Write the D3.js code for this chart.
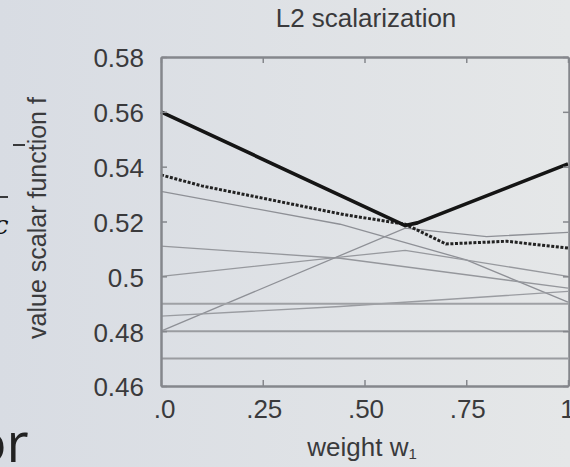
<!DOCTYPE html>
<html><head><meta charset="utf-8">
<script src="https://cdn.jsdelivr.net/npm/d3@7"></script>
<style>
html,body{margin:0;padding:0;overflow:hidden;background:#dde0e5;}
svg{display:block;font-family:"Liberation Sans",Arial,sans-serif;}
</style></head><body>
<svg id="c" width="570" height="467"></svg>
<script>
// ---- data ----
const title = "L2 scalarization";
const xLabel = "weight w";
const yLabel = "value scalar function f";
const xTickValues = [0, 0.25, 0.5, 0.75, 1];
const xTickLabels = [".0", ".25", ".50", ".75", "1"];
const yTickValues = [0.58, 0.56, 0.54, 0.52, 0.5, 0.48, 0.46];
const yTickLabels = ["0.58", "0.56", "0.54", "0.52", "0.5", "0.48", "0.46"];

// thick solid line (optimum)
const boldX = [0, 0.6, 0.63, 1];
const boldY = [0.56, 0.5185, 0.5195, 0.541];
// thick dotted line
const dotX = [0, 0.1, 0.25, 0.45, 0.6, 0.7, 0.85, 1];
const dotY = [0.537, 0.533, 0.5285, 0.5225, 0.519, 0.5118, 0.5128, 0.5103];
// thin gray lines
const thinA = {x: [0, 0.44, 0.75, 1], y: [0.531, 0.519, 0.506, 0.4906]};
const thinB = {x: [0, 0.44, 1], y: [0.511, 0.5066, 0.4957]};
const thinC = {x: [0, 0.44, 0.6, 1], y: [0.5, 0.507, 0.5095, 0.5]};
const thinD = {x: [0, 0.6, 0.8, 1], y: [0.48, 0.5176, 0.5145, 0.516]};
const thinE = {x: [0, 0.44, 1], y: [0.4855, 0.489, 0.4945]};
const thinG = {x: [0, 1], y: [0.49, 0.49]};
const thinH = {x: [0, 1], y: [0.48, 0.48]};
const thinI = {x: [0, 1], y: [0.47, 0.47]};
const thinLines = [thinA, thinB, thinC, thinD, thinE, thinG, thinH, thinI];

// ---- drawing ----
const svg = d3.select("#c");
const defs = svg.append("defs");
const grad = defs.append("linearGradient").attr("id","bg").attr("x1","0").attr("x2","1").attr("y1","0").attr("y2","0");
grad.append("stop").attr("offset","0").attr("stop-color","#d8dce3");
grad.append("stop").attr("offset","1").attr("stop-color","#e5e7e8");
svg.append("rect").attr("width",570).attr("height",467).attr("fill","url(#bg)");

const L = 161, R = 568, T = 57, B = 386;
const x = d3.scaleLinear().domain([0,1]).range([L,R]);
const y = d3.scaleLinear().domain([0.46,0.58]).range([B,T]);

const line = d3.line().x(d=>x(d[0])).y(d=>y(d[1]));
const zip = (xs, ys) => xs.map((v,i)=>[v, ys[i]]);

// thin lines
const thinColors = ["#8e9096","#95979c","#97999e","#8e9096","#9a9ca1","#9fa1a5","#9a9ca0","#9a9ca0"];
const thinWidths = [1.3,1.3,1.3,1.3,1.3,2,2,2];
thinLines.forEach((s,i)=>{
  svg.append("path").attr("d", line(zip(s.x, s.y))).attr("fill","none")
    .attr("stroke", thinColors[i]).attr("stroke-width", thinWidths[i]);
});

// dotted thick line
svg.append("path").attr("d", line(zip(dotX, dotY))).attr("fill","none")
  .attr("stroke","#222").attr("stroke-width",3).attr("stroke-dasharray","3,1.6");
// bold line
svg.append("path").attr("d", line(zip(boldX, boldY))).attr("fill","none")
  .attr("stroke","#151515").attr("stroke-width",3.6).attr("stroke-linejoin","round");

// axes with inward ticks (all four sides)
const axisColor = "#85878c";
function styleAxis(g){
  g.select(".domain").attr("stroke", axisColor).attr("stroke-width", 2.5);
  g.selectAll(".tick line").attr("stroke", axisColor).attr("stroke-width", 1.5);
  g.selectAll("text").attr("fill","#3a3a3c").attr("font-size","26px")
    .attr("font-family","Liberation Sans, Arial, sans-serif");
}
const xb = svg.append("g").attr("transform",`translate(0,${B})`)
  .call(d3.axisBottom(x).tickValues(xTickValues).tickFormat((d,i)=>xTickLabels[i]).tickSizeInner(-6).tickSizeOuter(0).tickPadding(14));
styleAxis(xb);
xb.selectAll("text").attr("dy","0.71em").attr("dx", (d,i)=> i===0? "3": (i===4 ? "-1" : "1"));
const xt = svg.append("g").attr("transform",`translate(0,${T})`)
  .call(d3.axisTop(x).tickValues(xTickValues).tickFormat("").tickSizeInner(-6).tickSizeOuter(0));
styleAxis(xt);
const yl = svg.append("g").attr("transform",`translate(${L},0)`)
  .call(d3.axisLeft(y).tickValues(yTickValues).tickFormat((d,i)=>yTickLabels[i]).tickSizeInner(-6).tickSizeOuter(0).tickPadding(17));
styleAxis(yl);
yl.selectAll("text").attr("dy","0.38em");
const yr = svg.append("g").attr("transform",`translate(${R+1},0)`)
  .call(d3.axisRight(y).tickValues(yTickValues).tickFormat("").tickSizeInner(-6).tickSizeOuter(0));
styleAxis(yr);

// title
svg.append("text").attr("x",366).attr("y",27).attr("text-anchor","middle")
  .attr("font-size","26px").attr("fill","#3a3a3c").text(title);
// x label with subscript
const xl = svg.append("text").attr("x",362).attr("y",456).attr("text-anchor","middle")
  .attr("font-size","26px").attr("fill","#3a3a3c");
xl.append("tspan").text(xLabel);
xl.append("tspan").attr("font-size","15px").attr("dy","3").text("1");
// y label
svg.append("text").attr("transform","translate(46,218) rotate(-90)").attr("text-anchor","middle")
  .attr("font-size","25px").attr("fill","#3a3a3c").text(yLabel);

// slide fragments on the left edge
svg.append("line").attr("x1",13).attr("x2",25).attr("y1",145).attr("y2",145).attr("stroke","#111").attr("stroke-width",1.6);
svg.append("line").attr("x1",0).attr("x2",8).attr("y1",197).attr("y2",197).attr("stroke","#111").attr("stroke-width",1.6);
svg.append("text").attr("x",-6).attr("y",234).attr("font-size","26px").attr("font-style","italic")
  .attr("font-family","DejaVu Serif, serif").attr("fill","#111").text("c");
svg.append("text").attr("x",-26).attr("y",462).attr("font-size","54px")
  .attr("font-family","Open Sans, DejaVu Sans, sans-serif").attr("fill","#222").text("or");
</script>
</body></html>
